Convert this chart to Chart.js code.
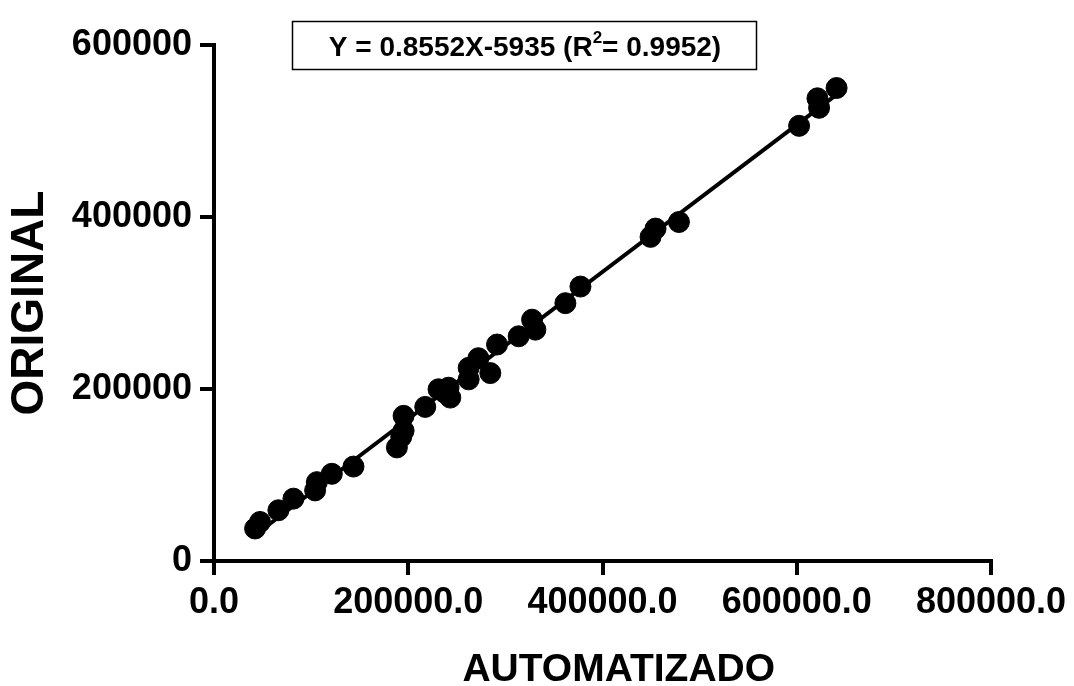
<!DOCTYPE html>
<html>
<head>
<meta charset="utf-8">
<script src="https://cdn.jsdelivr.net/npm/chart.js@4.4.0/dist/chart.umd.min.js"></script>
<style>
  html, body { margin: 0; padding: 0; background: #fff; }
  #wrap { width: 1074px; height: 686px; }
</style>
</head>
<body>
<div id="wrap"><canvas id="myChart" width="1074" height="686"></canvas></div>
<script>
// values
var automatizado = [42300, 47400, 66300, 81800, 104100, 105900, 121300, 143600,
  188300, 192800, 195200, 195200, 217500, 231200, 238100, 241500, 243300,
  262200, 262200, 272200, 284500, 291400, 313700, 327500, 330900, 361800,
  377300, 449500, 454600, 478700, 602400, 623000, 621300, 641000];
var original = [37800, 45400, 59000, 72500, 82100, 91700, 101400, 109800,
  132100, 144500, 151500, 168800, 179200, 199700, 195400, 201500, 190000,
  211200, 224600, 235800, 218500, 251700, 261300, 280600, 269000, 299800,
  319100, 376900, 386500, 394200, 506000, 527000, 538000, 550000];
var xTicks = [0, 200000, 400000, 600000, 800000];
var yTicks = [0, 200000, 400000, 600000];

// fit from the equation in the box
var slope = 0.8552;
var intercept = -5935;
var fitRange = [42300, 641000];

var points = automatizado.map(function (x, i) { return { x: x, y: original[i] }; });
var fitLine = fitRange.map(function (x) { return { x: x, y: slope * x + intercept }; });

Chart.defaults.font.family = '"Liberation Sans", Arial, sans-serif';
Chart.defaults.font.weight = 'bold';
Chart.defaults.color = '#000';

// equation box at the top
var equationBox = {
  id: 'equationBox',
  afterDraw: function (chart) {
    var c = chart.ctx;
    c.save();
    c.strokeStyle = '#000';
    c.lineWidth = 1.5;
    c.strokeRect(292.5, 21.5, 464, 48);
    c.fillStyle = '#000';
    c.textBaseline = 'alphabetic';
    var big = 'bold 28px "Liberation Sans", Arial, sans-serif';
    var small = 'bold 17px "Liberation Sans", Arial, sans-serif';
    var a = 'Y = 0.8552X-5935 (R', s = '2', b = '= 0.9952)';
    c.font = big;
    var wa = c.measureText(a).width, wb = c.measureText(b).width;
    c.font = small;
    var ws = c.measureText(s).width;
    var x = 525 - (wa + ws + wb) / 2;
    var y = 56;
    c.font = big;
    c.fillText(a, x, y);
    c.font = small;
    c.fillText(s, x + wa, y - 13);
    c.font = big;
    c.fillText(b, x + wa + ws, y);
    c.restore();
  }
};

var ctx = document.getElementById('myChart').getContext('2d');

var data = {
  datasets: [
    {
      type: 'line',
      label: 'fit',
      data: fitLine,
      borderColor: '#000',
      borderWidth: 4,
      pointRadius: 0,
      fill: false,
      clip: false
    },
    {
      type: 'scatter',
      label: 'data',
      data: points,
      backgroundColor: '#000',
      borderColor: '#000',
      pointRadius: 10.5,
      pointHoverRadius: 10.5,
      clip: false
    }
  ]
};

var options = {
  responsive: false,
  animation: false,
  layout: { padding: { left: 0, right: 83, top: 45, bottom: 0 } },
  plugins: {
    legend: { display: false },
    tooltip: { enabled: false }
  },
  scales: {
    x: {
      type: 'linear',
      min: 0,
      max: 800000,
      afterBuildTicks: function (scale) {
        scale.ticks = xTicks.map(function (v) { return { value: v }; });
      },
      afterFit: function (scale) { scale.height = 125; },
      border: { display: true, width: 4, color: '#000' },
      grid: { drawOnChartArea: false, drawTicks: true, tickLength: 14, lineWidth: 4, color: '#000' },
      ticks: {
        maxRotation: 0,
        padding: 6,
        font: { size: 36, weight: 'bold' },
        callback: function (v) { return v.toFixed(1); }
      },
      title: {
        display: true,
        // leading spaces nudge the title right like the original
        text: '\u00a0\u00a0\u00a0AUTOMATIZADO',
        font: { size: 39, weight: 'bold', lineHeight: 1 },
        padding: { top: 0, bottom: -4 }
      }
    },
    y: {
      type: 'linear',
      min: 0,
      max: 600000,
      afterBuildTicks: function (scale) {
        scale.ticks = yTicks.map(function (v) { return { value: v }; });
      },
      afterFit: function (scale) { scale.width = 214; },
      border: { display: true, width: 4, color: '#000' },
      grid: { drawOnChartArea: false, drawTicks: true, tickLength: 14, lineWidth: 4, color: '#000' },
      ticks: {
        padding: 8,
        font: { size: 36, weight: 'bold' },
        callback: function (v) { return String(v); }
      },
      title: {
        display: true,
        text: 'ORIGINAL',
        font: { size: 46, weight: 'bold', lineHeight: 1 },
        padding: { top: 7, bottom: 0 }
      }
    }
  }
};

var chart = new Chart(ctx, {
  type: 'scatter',
  data: data,
  options: options,
  plugins: [equationBox]
});
</script>
</body>
</html>
